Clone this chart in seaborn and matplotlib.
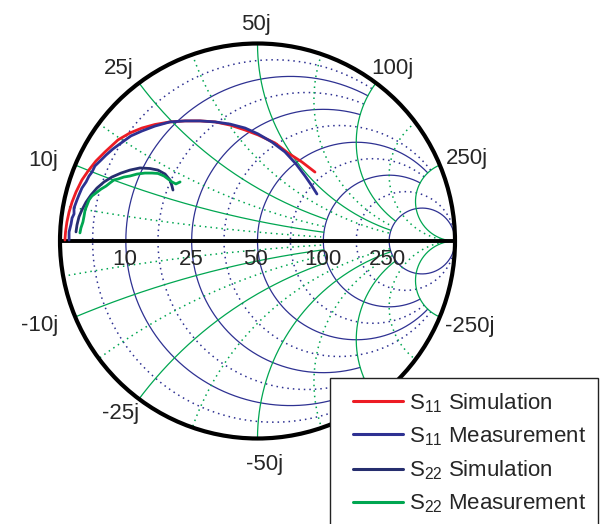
import numpy as np
import pandas as pd
import matplotlib
matplotlib.use("Agg")
import matplotlib.pyplot as plt
import seaborn as sns
from matplotlib.lines import Line2D
from matplotlib.patches import Rectangle, Circle

# ---------------- data (reflection coefficient) ----------------
s11_sim_re = [-0.975, -0.972, -0.965, -0.954, -0.939, -0.919, -0.889, -0.858, -0.818, -0.772,
              -0.706, -0.646, -0.585, -0.519, -0.443, -0.367, -0.291, -0.215, -0.139, -0.063,
              0.003, 0.089, 0.154, 0.225, 0.291]
s11_sim_im = [0.005, 0.046, 0.096, 0.147, 0.197, 0.248, 0.309, 0.354, 0.405, 0.451,
              0.512, 0.547, 0.572, 0.590, 0.603, 0.608, 0.608, 0.603, 0.587, 0.562,
              0.537, 0.496, 0.446, 0.400, 0.349]

s11_meas_re = [-0.954, -0.954, -0.944, -0.939, -0.929, -0.929, -0.914, -0.904, -0.889, -0.868,
               -0.853, -0.838, -0.823, -0.792, -0.767, -0.732, -0.691, -0.641, -0.585, -0.519,
               -0.443, -0.367, -0.291, -0.215, -0.139, -0.063, 0.003, 0.073, 0.139, 0.195,
               0.241, 0.276, 0.301]
s11_meas_im = [0.005, 0.046, 0.086, 0.116, 0.137, 0.167, 0.208, 0.233, 0.268, 0.299,
               0.329, 0.349, 0.380, 0.410, 0.435, 0.466, 0.496, 0.532, 0.557, 0.582,
               0.603, 0.608, 0.608, 0.603, 0.592, 0.572, 0.542, 0.501, 0.451, 0.390,
               0.329, 0.278, 0.238]

s22_sim_re = [-0.919, -0.914, -0.904, -0.889, -0.868, -0.843, -0.813, -0.777, -0.737, -0.691,
              -0.646, -0.595, -0.544, -0.504, -0.468, -0.443, -0.433, -0.428]
s22_sim_im = [0.046, 0.081, 0.122, 0.157, 0.197, 0.233, 0.268, 0.299, 0.324, 0.344,
              0.359, 0.370, 0.367, 0.359, 0.339, 0.309, 0.278, 0.258]

s22_meas_re = [-0.899, -0.894, -0.884, -0.878, -0.873, -0.863, -0.853, -0.838, -0.818, -0.792,
               -0.767, -0.747, -0.727, -0.706, -0.676, -0.646, -0.610, -0.570, -0.534, -0.504,
               -0.473, -0.453, -0.433, -0.413, -0.392]
s22_meas_im = [0.041, 0.066, 0.096, 0.127, 0.157, 0.182, 0.208, 0.228, 0.243, 0.263,
               0.278, 0.294, 0.309, 0.314, 0.324, 0.329, 0.339, 0.344, 0.344, 0.342,
               0.329, 0.314, 0.299, 0.289, 0.299]

series_names = [r"S$_{\mathregular{11}}$ Simulation", r"S$_{\mathregular{11}}$ Measurement",
                r"S$_{\mathregular{22}}$ Simulation", r"S$_{\mathregular{22}}$ Measurement"]

# grid values (normalised to Z0 = 50 ohm) and the extent of each grid line
r_major = [0.2, 0.5, 1.0, 2.0, 5.0]
r_major_ext = [2.0, 2.0, 5.0, 5.0, np.inf]
x_major = [0.2, 0.5, 1.0, 2.0, 5.0]
x_major_ext = [2.0, 2.0, 5.0, 5.0, np.inf]
r_minor = [0.09, 0.33, 0.71, 1.4, 3.0]
r_minor_ext = [2.0, 2.0, 5.0, 5.0, np.inf]
x_minor = [0.09, 0.33, 0.71, 1.4, 3.0]
x_minor_ext = [2.0, 2.0, 5.0, 5.0, np.inf]

res_labels = ["10", "25", "50", "100", "250"]
react_labels = ["10j", "25j", "50j", "100j", "250j", "-10j", "-25j", "-50j", "-250j"]

# ---------------- style ----------------
sns.set_theme(style="white")
plt.rcParams["font.family"] = ["Liberation Sans", "DejaVu Sans"]
plt.rcParams["mathtext.fontset"] = "custom"
plt.rcParams["mathtext.rm"] = "Liberation Sans"
plt.rcParams["mathtext.it"] = "Liberation Sans"

BLUE_GRID = "#2E3192"
GREEN_GRID = "#00A651"
RED = "#ED1C24"
BLUE1 = "#2E3192"
BLUE2 = "#262E6E"
GREEN = "#00A651"

W, H = 608, 524
CX, CY, RAD = 257.5, 241.0, 197.5   # chart centre / radius in pixels

fig = plt.figure(figsize=(W / 100, H / 100), dpi=100)
ax = fig.add_axes([0, 0, 1, 1])
ax.set_xlim(-CX / RAD, (W - CX) / RAD)
ax.set_ylim((CY - H) / RAD, CY / RAD)
ax.set_aspect("equal", adjustable="datalim")
ax.axis("off")


def r_curve(r, xext):
    c, rr = r / (1 + r), 1 / (1 + r)
    phi = np.linspace(0, 2 * np.pi, 4000)
    g = c + rr * np.exp(1j * phi)
    with np.errstate(all="ignore"):
        z = (1 + g) / (1 - g)
    ok = np.isfinite(z) & (np.abs(z.imag) <= xext)
    return np.where(ok, g.real, np.nan), np.where(ok, g.imag, np.nan)


def x_curve(x, rext):
    c = 1 + 1j / x
    rr = 1 / abs(x)
    phi = np.linspace(0, 2 * np.pi, 6000)
    g = c + rr * np.exp(1j * phi)
    with np.errstate(all="ignore"):
        z = (1 + g) / (1 - g)
    ok = np.isfinite(z) & (np.abs(g) <= 1.0) & (z.real <= rext)
    return np.where(ok, g.real, np.nan), np.where(ok, g.imag, np.nan)


dot = (0, (1.0, 2.6))
for vals, exts, ls in [(r_minor, r_minor_ext, dot), (r_major, r_major_ext, "-")]:
    for v, e in zip(vals, exts):
        gx, gy = r_curve(v, e)
        ax.plot(gx, gy, color=BLUE_GRID, lw=0.9 if ls == "-" else 1.1, ls=ls, zorder=1)
for vals, exts, ls in [(x_minor, x_minor_ext, dot), (x_major, x_major_ext, "-")]:
    for v, e in zip(vals, exts):
        for s in (1, -1):
            gx, gy = x_curve(s * v, e)
            ax.plot(gx, gy, color=GREEN_GRID, lw=0.9 if ls == "-" else 1.1, ls=ls, zorder=1)

# outer circle and real axis
ax.add_patch(Circle((0, 0), 1.0, fill=False, ec="black", lw=3.0, zorder=3))
ax.plot([-1.0, 1.0], [0, 0], color="black", lw=2.8, zorder=3, solid_capstyle="butt")

# ---------------- data curves ----------------
series = [
    (s11_sim_re, s11_sim_im, RED),
    (s11_meas_re, s11_meas_im, BLUE1),
    (s22_sim_re, s22_sim_im, BLUE2),
    (s22_meas_re, s22_meas_im, GREEN),
]
for (re, im, col), name in zip(series, series_names):
    df = pd.DataFrame({"re": re, "im": im})
    sns.lineplot(data=df, x="re", y="im", sort=False, estimator=None, color=col,
                 lw=2.0, ax=ax, zorder=5, legend=False)
ax.set_xlabel("")
ax.set_ylabel("")


# ---------------- labels ----------------
def px(xp, yp):
    return (xp - CX) / RAD, (CY - yp) / RAD


FS = 16
res_px = [(125, 265), (191, 265), (255, 265), (323, 265), (387, 265)]
for lab, (xp, yp) in zip(res_labels, res_px):
    ax.text(*px(xp, yp), lab, fontsize=FS, ha="center", va="baseline", zorder=6)

react_px = [(43, 166), (119, 74), (256, 30), (392, 74), (467, 164),
            (40, 331), (121, 419), (265, 470), (470, 332)]
for lab, (xp, yp) in zip(react_labels, react_px):
    ax.text(*px(xp, yp), lab, fontsize=FS, ha="center", va="baseline", zorder=6)

# ---------------- legend ----------------
fig.add_artist(Rectangle((330 / W, -0.05), (598 - 330) / W, (H - 378) / H + 0.05,
                         transform=fig.transFigure, facecolor="white", edgecolor="#222222",
                         lw=1.0, zorder=10, clip_on=False))
handles = [Line2D([], [], color=c, lw=2.2) for (_, _, c) in series]
leg = fig.legend(handles, series_names, loc="upper left",
                 bbox_to_anchor=(353 / W, 1 - 391 / H), bbox_transform=fig.transFigure,
                 frameon=False, fontsize=FS, handlelength=2.25, handletextpad=0.27,
                 labelspacing=0.48, borderpad=0.0, borderaxespad=0.0)
leg.set_zorder(11)

fig.savefig("out.png", dpi=100)
